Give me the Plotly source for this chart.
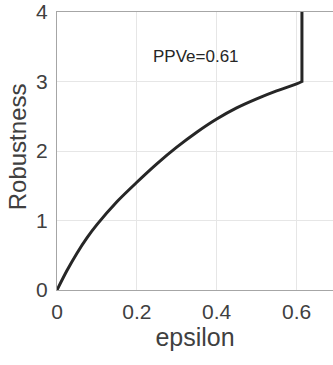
import plotly.graph_objects as go

epsilon = [0, 0.025, 0.05, 0.075, 0.1, 0.15, 0.2, 0.25, 0.3, 0.35, 0.4, 0.45, 0.5, 0.55, 0.6, 0.6135, 0.6135, 0.6135]
robustness = [0, 0.28, 0.53, 0.75, 0.94, 1.27, 1.55, 1.815, 2.055, 2.27, 2.46, 2.62, 2.75, 2.865, 2.965, 3.0, 3.0, 4.0]
x_ticks = [0, 0.2, 0.4, 0.6]
x_tick_labels = ["0", "0.2", "0.4", "0.6"]
y_ticks = [0, 1, 2, 3, 4]
label_text = "PPVe=0.61"
label_x, label_y = 0.3475, 3.36
x_title = "epsilon"
y_title = "Robustness"

font_family = "Liberation Sans, Arial, sans-serif"
text_color = "#404040"

fig = go.Figure()
fig.add_trace(go.Scatter(x=epsilon, y=robustness, mode="lines",
                         line=dict(color="#262626", width=3, shape="spline", smoothing=0.8),
                         showlegend=False, hoverinfo="skip"))
fig.add_annotation(x=label_x, y=label_y, text=label_text, showarrow=False,
                   font=dict(family=font_family, size=17, color="#262626"))
fig.add_annotation(xref="paper", yref="paper", x=-0.145, y=0.517, text=y_title,
                   textangle=-90, showarrow=False, xanchor="center", yanchor="middle",
                   font=dict(family=font_family, size=24, color=text_color))

fig.update_layout(
    width=333, height=365,
    margin=dict(l=57, r=0, t=12, b=75),
    plot_bgcolor="white", paper_bgcolor="white",
    font=dict(family=font_family, color=text_color),
)
fig.update_xaxes(range=[0, 0.6913], tickvals=x_ticks, ticktext=x_tick_labels,
                 automargin=False,
                 showgrid=True, gridcolor="#e6e6e6", gridwidth=1,
                 showline=True, linecolor="#a6a6a6", linewidth=1, mirror=True,
                 zeroline=False, ticks="", tickfont=dict(size=21, color=text_color),
                 ticklabelstandoff=3,
                 title=dict(text=x_title, font=dict(size=25, color=text_color), standoff=6))
fig.update_yaxes(range=[0, 4], tickvals=y_ticks,
                 automargin=False,
                 showgrid=True, gridcolor="#e6e6e6", gridwidth=1,
                 showline=True, linecolor="#a6a6a6", linewidth=1,
                 zeroline=False, ticks="", tickfont=dict(size=21, color=text_color),
                 ticklabelstandoff=4)

fig.write_html("out.html", config={"displayModeBar": False},
               post_script="document.body.style.margin='0px';")
